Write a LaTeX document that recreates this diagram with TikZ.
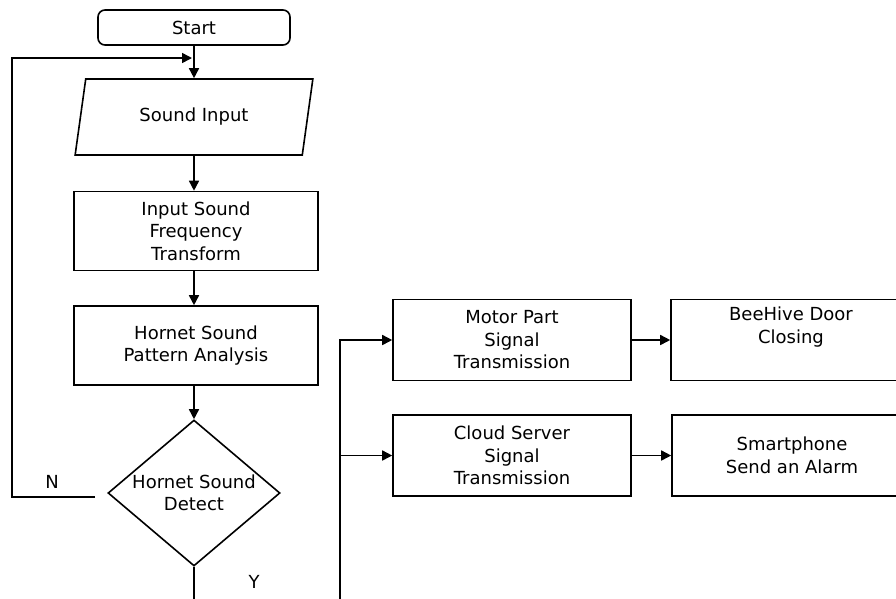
\documentclass[tikz,border=0pt]{standalone}
\usepackage{fontspec}
\setmainfont{DejaVu Sans}
\usetikzlibrary{shapes.geometric,arrows.meta,positioning}

\begin{document}
\begin{tikzpicture}[x=1pt,y=-1pt,line width=1.6pt,font=\fontsize{18}{22.5}\selectfont,
  >={Triangle[length=10pt,width=10pt]}]
\tikzstyle{box}=[draw,rectangle,minimum width=244pt,minimum height=79pt,align=center,inner sep=0pt]
\tikzstyle{sidebox}=[box,minimum width=238pt,minimum height=81pt]
\useasboundingbox (0,0) rectangle (896,598);
\clip (0,0) rectangle (896,598);
% main column
\node[box,rounded corners=7pt,minimum width=192pt,minimum height=35pt] (start) at (194,27.5) {Start};
\node[draw,trapezium,trapezium left angle=73,trapezium right angle=107,trapezium stretches=true,
  minimum width=238pt,minimum height=76pt,inner sep=0pt] (input) at (194,117) {Sound Input};
\node[box] (freq) at (196,231) {Input Sound\\Frequency\\Transform};
\node[box] (pattern) at (196,345.5) {Hornet Sound\\Pattern Analysis};
\node[draw,diamond,minimum width=172pt,minimum height=146pt,inner sep=-8pt,align=center] (detect) at (194,493) {Hornet Sound\\Detect};
% right side
\node[sidebox] (motor) at (512,340) {Motor Part\\Signal\\Transmission};
\node[sidebox] (cloud) at (512,455.5) {Cloud Server\\Signal\\Transmission};
\node[sidebox,minimum width=240pt] (door) at (791,340) {BeeHive Door\\Closing\\\strut};
\node[sidebox,minimum width=240pt] (phone) at (792,455.5) {Smartphone\\Send an Alarm};
\node (lblN) at (52,482) {N};
\node (lblY) at (254,582) {Y};
\coordinate (nstart) at (95,497);
\coordinate (nleft) at (12,497);
\coordinate (merge) at (192,58);
\coordinate (busbot) at (340,620);

\draw[->] (start) -- (input);
\draw[->] (input) -- (input |- freq.north);
\draw[->] (freq.south -| input) -- (input |- pattern.north);
\draw[->] (pattern.south -| input) -- (detect);
\draw[->] (nstart) -- (nleft) |- (merge);
\draw (detect.south) -- (detect.south |- busbot);
\draw[->] (busbot) |- (motor.west);
\draw[->] (busbot |- cloud.west) -- (cloud.west);
\draw[->] (motor) -- (door);
\draw[->] (cloud) -- (phone);
\end{tikzpicture}
\end{document}
